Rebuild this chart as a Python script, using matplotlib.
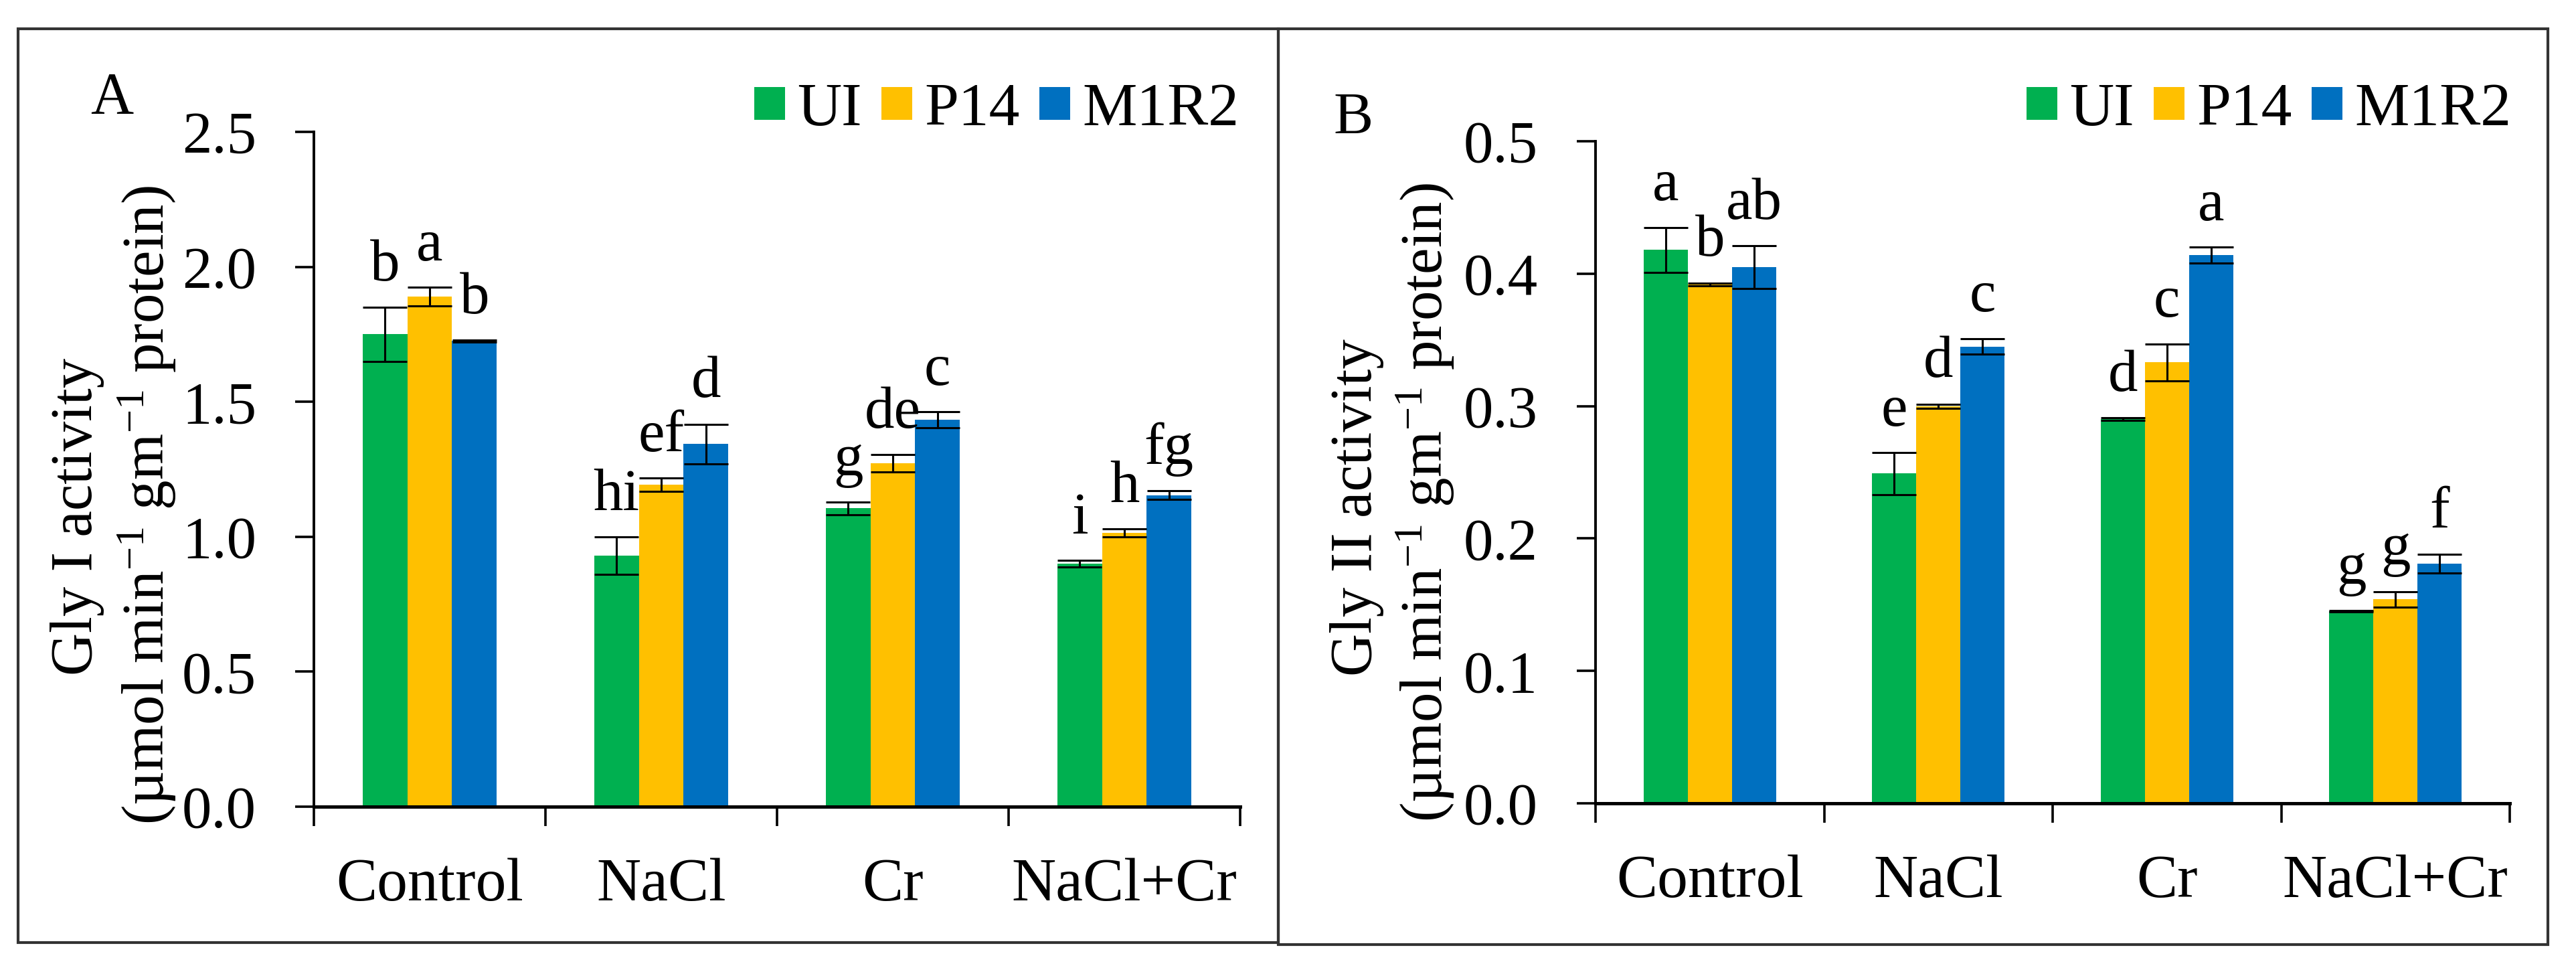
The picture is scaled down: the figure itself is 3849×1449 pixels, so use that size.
import matplotlib
matplotlib.use('Agg')
import matplotlib.pyplot as plt
import numpy as np
from matplotlib.patches import Rectangle

plt.rcParams['font.family'] = ['Liberation Serif', 'DejaVu Serif']
plt.rcParams['mathtext.fontset'] = 'custom'
plt.rcParams['mathtext.rm'] = 'Liberation Serif'
plt.rcParams['mathtext.it'] = 'Liberation Serif:italic'

# ---- data ----
treatments = ['Control', 'NaCl', 'Cr', 'NaCl+Cr']
strains = ['UI', 'P14', 'M1R2']
colors = ['#00B050', '#FFC000', '#0070C0']

# Gly I activity (panel A)
gly1_ui = [1.75, 0.93, 1.105, 0.90]
gly1_ui_err = [0.10, 0.07, 0.023, 0.012]
gly1_p14 = [1.89, 1.193, 1.273, 1.014]
gly1_p14_err = [0.034, 0.025, 0.032, 0.015]
gly1_m1r2 = [1.725, 1.344, 1.433, 1.154]
gly1_m1r2_err = [0.003, 0.073, 0.030, 0.016]
gly1_ui_let = ['b', 'hi', 'g', 'i']
gly1_p14_let = ['a', 'ef', 'de', 'h']
gly1_m1r2_let = ['b', 'd', 'c', 'fg']

# Gly II activity (panel B)
gly2_ui = [0.418, 0.249, 0.290, 0.145]
gly2_ui_err = [0.017, 0.016, 0.001, 0.0006]
gly2_p14 = [0.392, 0.300, 0.333, 0.154]
gly2_p14_err = [0.001, 0.0015, 0.014, 0.006]
gly2_m1r2 = [0.405, 0.345, 0.414, 0.181]
gly2_m1r2_err = [0.016, 0.006, 0.006, 0.007]
gly2_ui_let = ['a', 'e', 'd', 'g']
gly2_p14_let = ['b', 'd', 'c', 'g']
gly2_m1r2_let = ['ab', 'c', 'a', 'f']

W, H = 3849, 1449
fig = plt.figure(figsize=(W / 100, H / 100), dpi=100)


def px_axes(l, r, t, b):
    return fig.add_axes([l / W, 1 - b / H, (r - l) / W, (b - t) / H])


def draw_panel(ax, means, errs, letters, ymax, step):
    x = np.arange(len(treatments))
    w = 0.193
    handles = []
    for i in range(3):
        xs = x + (i - 1) * w
        bars = ax.bar(xs, means[i], width=w, color=colors[i], linewidth=0,
                      label=strains[i], zorder=2)
        handles.append(bars)
        ax.errorbar(xs, means[i], yerr=errs[i], fmt='none', ecolor='black',
                    elinewidth=2.2, capsize=24, capthick=2.2, zorder=3)
        for xx, m, e, lt in zip(xs, means[i], errs[i], letters[i]):
            ax.annotate(lt, xy=(xx, m + e), xytext=(0, 29),
                        textcoords='offset points', ha='center',
                        va='baseline', fontsize=64)
    ax.set_xlim(-0.5, len(treatments) - 0.5)
    ax.set_ylim(0, ymax)
    ticks = np.arange(0, ymax + step / 2, step)
    ax.set_yticks(ticks)
    ax.set_yticklabels([f'{t:.1f}' for t in ticks])
    ax.set_xticks(np.arange(-0.5, len(treatments)))
    ax.set_xticklabels([])
    ax.set_xticks(x, minor=True)
    ax.set_xticklabels(treatments, minor=True)
    ax.tick_params(axis='x', which='major', direction='out', length=21,
                   width=2.6, color='black')
    ax.tick_params(axis='x', which='minor', length=0, pad=55, labelsize=66)
    ax.tick_params(axis='y', direction='out', length=20, width=2.6,
                   pad=42, labelsize=64)
    for s in ['top', 'right']:
        ax.spines[s].set_visible(False)
    ax.spines['left'].set_linewidth(2.8)
    ax.spines['bottom'].set_linewidth(3.6)
    ax.set_facecolor('none')
    return handles


# panel A
axA = px_axes(469, 1853, 197, 1205)
hA = draw_panel(axA, [gly1_ui, gly1_p14, gly1_m1r2],
                [gly1_ui_err, gly1_p14_err, gly1_m1r2_err],
                [gly1_ui_let, gly1_p14_let, gly1_m1r2_let], 2.5, 0.5)

# panel B
axB = px_axes(2384, 3750, 211, 1200)
hB = draw_panel(axB, [gly2_ui, gly2_p14, gly2_m1r2],
                [gly2_ui_err, gly2_p14_err, gly2_m1r2_err],
                [gly2_ui_let, gly2_p14_let, gly2_m1r2_let], 0.5, 0.1)

# legends
for ax, right in [(axA, 1851), (axB, 3752)]:
    ax.legend(loc='center right', bbox_to_anchor=(right / W, 1 - 165 / H),
              bbox_transform=fig.transFigure, ncol=3, frameon=False,
              fontsize=66, handlelength=0.5, handleheight=0.45,
              handletextpad=0.2, columnspacing=0.32, borderpad=0,
              borderaxespad=0)

# y labels
unit = r'($\mathrm{\mu}$mol min$^{-1}$ gm$^{-1}$ protein)'
unit = '(\u00b5mol min$^{-1}$ gm$^{-1}$ protein)'
fig.text(116 / W, 1 - 772 / H, 'Gly I activity', rotation=90,
         ha='center', va='center', fontsize=64)
fig.text(220 / W, 1 - 755 / H, unit, rotation=90,
         ha='center', va='center', fontsize=64)
fig.text(2028 / W, 1 - 758 / H, 'Gly II activity', rotation=90,
         ha='center', va='center', fontsize=64)
fig.text(2130 / W, 1 - 751 / H, unit, rotation=90,
         ha='center', va='center', fontsize=64)

# panel letters
fig.text(135 / W, 1 - 169 / H, 'A', ha='left', va='baseline', fontsize=64)
fig.text(1992 / W, 1 - 199 / H, 'B', ha='left', va='baseline', fontsize=64)

# panel frames
for l, r, t, b in [(27, 1910, 43, 1408), (1910, 3807, 43, 1411)]:
    fig.add_artist(Rectangle((l / W, 1 - b / H), (r - l) / W, (b - t) / H,
                             transform=fig.transFigure, fill=False,
                             edgecolor='#333333', linewidth=3))

fig.savefig('out.png', dpi=100)
